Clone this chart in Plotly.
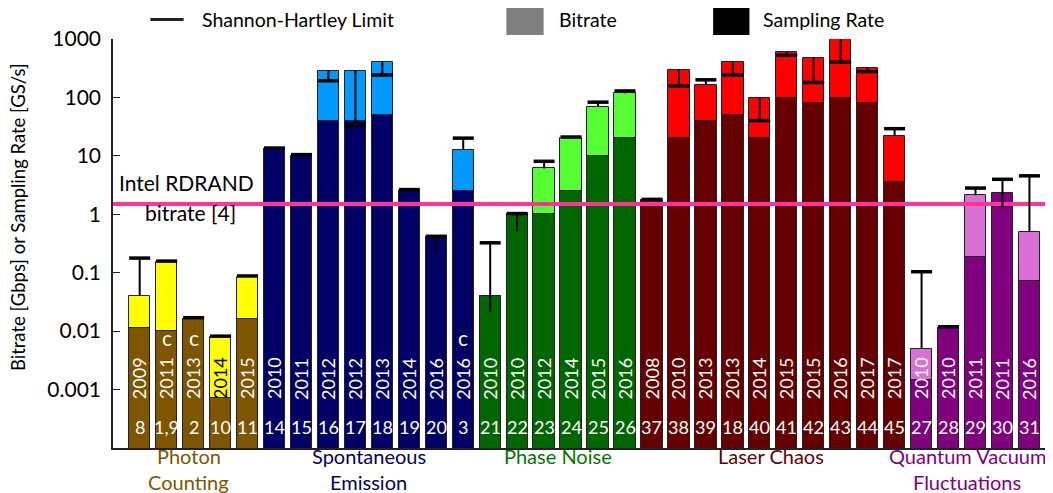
import plotly.graph_objects as go

# ---------------- data ----------------
group_line1 = ["Photon", "Spontaneous", "Phase Noise", "Laser Chaos", "Quantum Vacuum"]
group_line2 = ["Counting", "Emission", "", "", "Fluctuations"]
group_sizes = [5, 8, 6, 10, 5]

years = ["2009", "2011", "2013", "2014", "2015",
         "2010", "2011", "2012", "2012", "2013", "2014", "2016", "2016",
         "2010", "2010", "2012", "2014", "2015", "2016",
         "2008", "2010", "2013", "2013", "2014", "2015", "2015", "2016", "2017", "2017",
         "2010", "2010", "2011", "2011", "2016"]
refs = ["8", "1,9", "2", "10", "11",
        "14", "15", "16", "17", "18", "19", "20", "3",
        "21", "22", "23", "24", "25", "26",
        "37", "38", "39", "18", "40", "41", "42", "43", "44", "45",
        "27", "28", "29", "30", "31"]
c_marks = ["", "c", "c", "", "",
           "", "", "", "", "", "", "", "c",
           "", "", "", "", "", "",
           "", "", "", "", "", "", "", "", "", "",
           "", "", "", "", ""]

sampling_rate = [0.0113, 0.0099, 0.0164, 0.00073, 0.0164,
                 13.1, 10.1, 40, 40, 50.6, 2.55, 0.408, 2.49,
                 0.040, 1.0, 1.0, 2.49, 10.1, 20.3,
                 1.73, 20.3, 40, 50.6, 20.3, 98.6, 80.7, 98.6, 80.7, 3.61,
                 0.00144, 0.0114, 0.183, 1.32, 0.0735]
bitrate = [0.040, 0.153, 0.0164, 0.00785, 0.085,
           13.1, 10.1, 285, 285, 402, 2.55, 0.408, 12.6,
           0.040, 1.0, 6.1, 20.3, 68.7, 118,
           1.73, 300, 162, 402, 98.6, 595, 479, 1000, 325, 21.7,
           0.00499, 0.0114, 2.12, 2.32, 0.505]
# Shannon-Hartley limit (cap) and the far end of its connecting line
sh_limit = [0.178, 0.158, 0.0170, 0.0082, 0.088,
            13.6, 10.5, 193, 33, 242, 2.65, 0.42, 20.1,
            0.325, 1.03, 8.07, 21.0, 83, 129,
            1.8, 158, 200, 242, 40, 526, 180, 402, 277, 29.2,
            0.104, 0.0119, 2.81, 3.97, 4.55]
sh_line_end = [0.040, 0.158, 0.0170, 0.0082, 0.088,
               13.6, 10.5, 285, 285, 402, 2.65, 0.209, 12.6,
               0.0214, 0.51, 6.1, 21.0, 68.7, 118,
               1.8, 300, 162, 402, 98.6, 595, 479, 1000, 325, 21.7,
               0.00499, 0.0119, 2.12, 1.32, 0.505]

rdrand_bitrate = 1.5
y_tick_vals = [1000, 100, 10, 1, 0.1, 0.01, 0.001]
y_tick_text = ["1000", "100", "10", "1", "0.1", "0.01", "0.001"]

# ---------------- styles ----------------
dark_colors = ["#7f5500", "#000066", "#006600", "#660000", "#800080"]
light_colors = ["#ffff00", "#0099ff", "#55ff33", "#ff0000", "#da70d6"]
label_colors = ["#7f5500", "#000066", "#007700", "#660000", "#800080"]
label_offsets = [-0.18, 0.0, 0.0, -0.1, -0.3]
FONT = "Lato"

n = len(years)
xs = list(range(n))
grp = []
for gi, s in enumerate(group_sizes):
    grp += [gi] * s
bar_dark = [dark_colors[g] for g in grp]
bar_light = [light_colors[g] for g in grp]
# bar 30's extension above its outlined top is drawn in the dark shade
bar_light[32] = dark_colors[4]
year_colors = ["white"] * n
year_colors[3] = "black"

x_range = [-0.99, 33.8]

fig = go.Figure()
fig.add_trace(go.Bar(x=xs, y=bitrate, width=0.79, marker=dict(color=bar_light,
              line=dict(color="#222222", width=1)), showlegend=False, hoverinfo="skip"))
fig.add_trace(go.Bar(x=xs, y=sampling_rate, width=0.79, marker=dict(color=bar_dark,
              line=dict(color="#222222", width=1)), showlegend=False, hoverinfo="skip"))

# Intel RDRAND line
fig.add_trace(go.Scatter(x=x_range, y=[rdrand_bitrate] * 2, mode="lines",
                         line=dict(color="#ff3399", width=4), showlegend=False,
                         hoverinfo="skip", cliponaxis=False))

# Shannon-Hartley connecting lines
lx, ly = [], []
for i in xs:
    if sh_line_end[i] != sh_limit[i]:
        lx += [i, i, None]
        ly += [sh_limit[i], sh_line_end[i], None]
fig.add_trace(go.Scatter(x=lx, y=ly, mode="lines", line=dict(color="black", width=2),
                         showlegend=False, hoverinfo="skip"))
fig.add_trace(go.Scatter(x=xs, y=sh_limit, mode="markers",
                         marker=dict(symbol="line-ew", size=15,
                                     line=dict(color="black", width=3.5)),
                         showlegend=False, hoverinfo="skip"))

ann = []
for i in xs:
    ann.append(dict(x=i, y=0.17, xref="x", yref="paper", text=years[i], textangle=-90,
                    showarrow=False, font=dict(family=FONT, size=18, color=year_colors[i]),
                    xanchor="center", yanchor="middle"))
    ann.append(dict(x=i, y=0.052, xref="x", yref="paper", text=refs[i],
                    showarrow=False, font=dict(family=FONT, size=18, color="white"),
                    xanchor="center", yanchor="middle"))
    if c_marks[i]:
        ann.append(dict(x=i, y=0.271, xref="x", yref="paper", text=c_marks[i],
                        showarrow=False, font=dict(family=FONT, size=21, color="white"),
                        xanchor="center", yanchor="middle"))

start = 0
for gi, s in enumerate(group_sizes):
    center = start + (s - 1) / 2 + label_offsets[gi]
    start += s
    for txt, yp in ((group_line1[gi], -0.020), (group_line2[gi], -0.082)):
        if txt:
            ann.append(dict(x=center, y=yp, xref="x", yref="paper", text=txt,
                            showarrow=False,
                            font=dict(family=FONT, size=20, color=label_colors[gi]),
                            xanchor="center", yanchor="middle"))

ann += [
    dict(x=0.0785, y=0.6485, xref="paper", yref="paper", text="Intel RDRAND", showarrow=False,
         font=dict(family=FONT, size=21, color="black"), xanchor="center", yanchor="middle"),
    dict(x=0.0828, y=0.5760, xref="paper", yref="paper", text="bitrate [4]", showarrow=False,
         font=dict(family=FONT, size=21, color="black"), xanchor="center", yanchor="middle"),
    dict(x=-0.1005, y=0.564, xref="paper", yref="paper",
         text="Bitrate [Gbps] or Sampling Rate [GS/s]", textangle=-90, showarrow=False,
         font=dict(family=FONT, size=18.5, color="black"), xanchor="center", yanchor="middle"),
    dict(x=0.0925, y=1.0474, xref="paper", yref="paper", text="Shannon-Hartley Limit",
         showarrow=False, font=dict(family=FONT, size=19.5, color="black"),
         xanchor="left", yanchor="middle"),
    dict(x=0.4731, y=1.0474, xref="paper", yref="paper", text="Bitrate",
         showarrow=False, font=dict(family=FONT, size=19.5, color="black"),
         xanchor="left", yanchor="middle"),
    dict(x=0.6903, y=1.0474, xref="paper", yref="paper", text="Sampling Rate",
         showarrow=False, font=dict(family=FONT, size=19.5, color="black"),
         xanchor="left", yanchor="middle"),
]

shapes = [
    dict(type="line", xref="paper", yref="paper", x0=0.0398, x1=0.0753, y0=1.0474, y1=1.0474,
         line=dict(color="#222222", width=3)),
    dict(type="rect", xref="paper", yref="paper", x0=0.4194, x1=0.4591, y0=1.0100, y1=1.0823,
         line=dict(width=0), fillcolor="#808080"),
    dict(type="rect", xref="paper", yref="paper", x0=0.6398, x1=0.6785, y0=1.0100, y1=1.0823,
         line=dict(width=0), fillcolor="#000000"),
]

# the page body adds an 8px offset; the figure is sized so the plot area lands
# at x 113..1043 and y 39..440 of the window
fig.update_layout(
    width=1045, height=485,
    margin=dict(l=105, r=2, t=31, b=45),
    paper_bgcolor="white", plot_bgcolor="white",
    barmode="overlay", bargap=0,
    font=dict(family=FONT, size=20, color="black"),
    annotations=ann, shapes=shapes, showlegend=False,
    xaxis=dict(range=x_range, showticklabels=False, ticks="", showgrid=False,
               zeroline=False, showline=True, linecolor="#222222", linewidth=1.5),
    yaxis=dict(type="log", range=[-4, 3], tickvals=y_tick_vals, ticktext=y_tick_text,
               ticks="inside", ticklen=7, tickwidth=1.2, tickcolor="#222222",
               showgrid=False, zeroline=False, showline=True, linecolor="#222222",
               linewidth=1.5, tickfont=dict(family=FONT, size=21), ticklabelstandoff=6),
)

fig.write_html("out.html")
